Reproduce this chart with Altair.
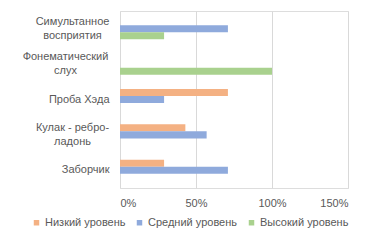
import altair as alt
import pandas as pd

categories = ["Симультанное\nвосприятия", "Фонематический\nслух", "Проба Хэда",
              "Кулак - ребро-\nладонь", "Заборчик"]
series = ["Низкий уровень", "Средний уровень", "Высокий уровень"]
low = [0.0, 0.0, 0.71, 0.43, 0.29]
mid = [0.71, 0.0, 0.29, 0.57, 0.71]
high = [0.29, 1.0, 0.0, 0.0, 0.0]
colors = ["#F4B183", "#8FAADC", "#A9D18E"]
x_ticks = [0, 0.5, 1.0, 1.5]

rows = []
for name, vals in zip(series, [low, mid, high]):
    for c, v in zip(categories, vals):
        rows.append({"cat": c, "series": name, "value": v})
df = pd.DataFrame(rows)

FONT = "Liberation Sans"
TXT = "#595959"

two_line = "indexof(datum.value, '\\n') >= 0"
wide = "datum.value == 'Фонематический\\nслух'"

chart = alt.Chart(df).transform_filter("datum.value > 0").mark_bar().encode(
    y=alt.Y("cat:N", sort=categories, title=None,
            scale=alt.Scale(paddingInner=0.4, paddingOuter=0.2),
            axis=alt.Axis(labelExpr="split(datum.label, '\\n')", labelLineHeight=14,
                          labelFont=FONT, labelFontSize=11, labelColor=TXT,
                          labelAlign={"condition": {"test": two_line, "value": "center"}, "value": "right"},
                          labelPadding={"condition": [{"test": wide, "value": 55},
                                                      {"test": two_line, "value": 48}], "value": 11},
                          labelOffset={"condition": {"test": two_line, "value": -7}, "value": 0},
                          ticks=False, domain=False, labelLimit=200)),
    yOffset=alt.YOffset("series:N", sort=series, scale=alt.Scale(domain=series, paddingInner=0, paddingOuter=0)),
    x=alt.X("value:Q", title=None,
            scale=alt.Scale(domain=[0, 1.5], nice=False),
            axis=alt.Axis(values=x_ticks, format=".0%", labelFont=FONT, labelFontSize=11,
                          labelColor=TXT, grid=True, gridColor="#D9D9D9", domain=False,
                          ticks=False, labelPadding=9)),
    color=alt.Color("series:N", sort=series,
                    scale=alt.Scale(domain=series, range=colors),
                    legend=alt.Legend(title=None, orient="none", legendX=-89, legendY=206,
                                      direction="horizontal", symbolType="square",
                                      symbolSize=30, symbolStrokeWidth=0,
                                      labelFont=FONT, labelFontSize=11, labelColor=TXT,
                                      columnPadding=8, labelOffset=3)),
).properties(
    width=228, height=177,
    autosize=alt.AutoSizeParams(type="none"),
    padding={"left": 112, "top": 3, "right": 16, "bottom": 47},
).configure_view(stroke=None).configure(background="white")

chart.save("out.html", embed_options={"renderer": "svg", "actions": False})
